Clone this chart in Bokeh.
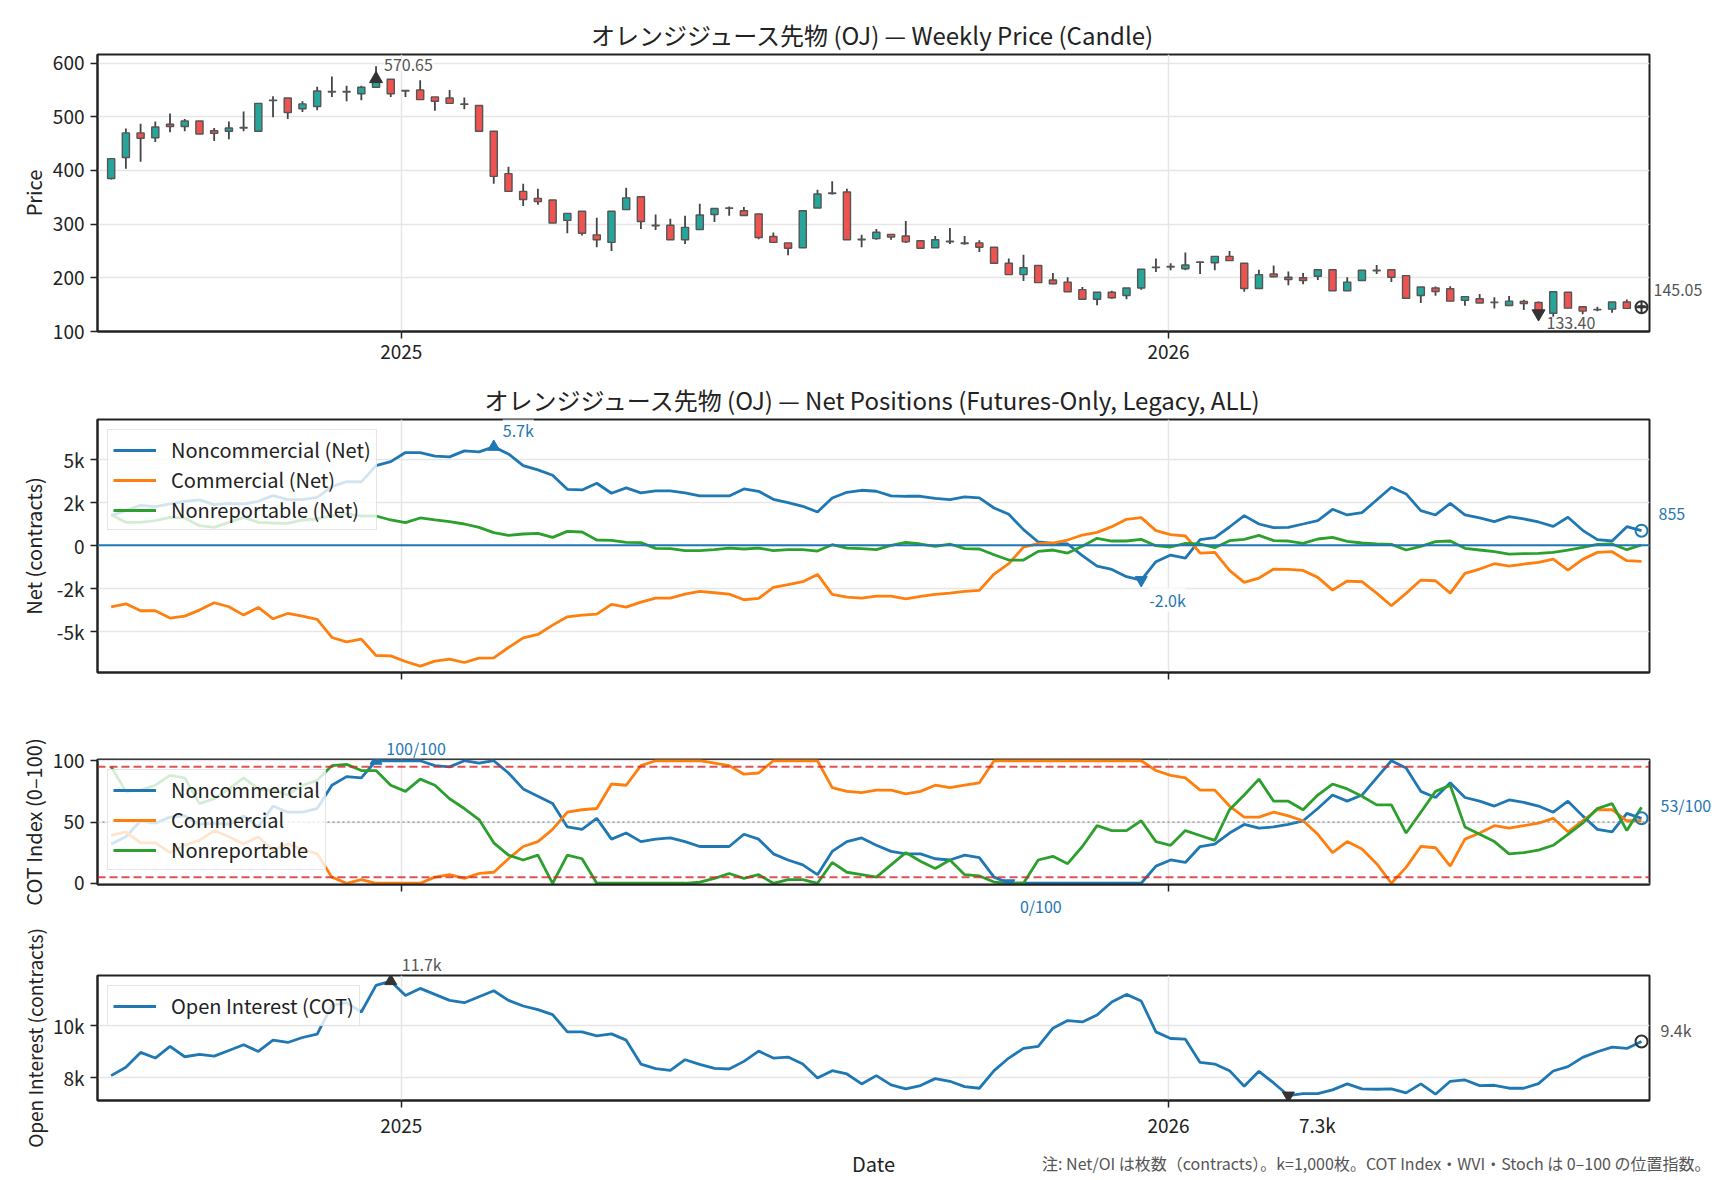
import numpy as np
import pandas as pd
from bokeh.plotting import figure
from bokeh.models import (ColumnDataSource, Range1d, FixedTicker, LinearAxis,
                          DatetimeTickFormatter, Label, Span)
from bokeh.layouts import column
from bokeh.embed import file_html
from bokeh.resources import INLINE

FONT = "Noto Sans CJK JP"
DAY = 86400000

# 週足 (105 本)
dates = pd.date_range("2024-08-16", periods=105, freq="7D")

price_open = [385, 424, 470, 461, 486, 482, 492, 474, 473, 479,
              473, 530, 535, 515, 519, 546, 546, 543, 555, 570,
              549, 550, 537, 535, 524, 521, 473, 394, 361, 348,
              345, 307, 324, 280, 266, 327, 351, 298, 298, 271,
              290, 318, 330, 325, 319, 277, 265, 256, 330, 358,
              360, 271, 273, 281, 278, 269, 256, 267, 265, 265,
              257, 227, 206, 223, 196, 192, 178, 160, 173, 167,
              181, 219, 220, 217, 229, 228, 240, 227, 180, 207,
              201, 200, 203, 215, 176, 195, 214, 215, 204, 167,
              181, 179.5, 158, 161, 154, 148.5, 156, 154, 134, 173,
              146, 140.5, 141.6, 155, 148]
price_high = [423, 478, 487, 491, 506, 496, 492, 479, 491, 510,
              525, 538, 535, 529, 556, 575, 558, 558, 594, 570,
              550, 568, 537, 550, 536, 521, 473, 407, 375, 366,
              345, 320, 324, 312, 324, 368, 351, 318, 310, 315.5,
              338, 329, 333, 332, 319, 284.5, 265, 325, 364, 380,
              366, 280, 291, 281, 306, 269, 278, 293, 278, 270,
              257, 236, 243, 223, 209, 201, 183, 173, 176, 181,
              216, 236, 227, 247, 230, 240, 250, 227, 215, 223,
              212, 209, 215, 216, 201, 214, 224, 215, 204, 183,
              184, 184.5, 165, 170, 164, 166, 159, 156, 175, 173,
              146, 146, 155, 159.7, 150]
price_low = [383, 403, 416, 453, 471, 473, 468, 455, 458, 473,
             473, 499, 496, 509, 512, 537, 529, 531, 554, 537,
             537, 532, 511, 525, 514, 473, 375, 361, 334, 336,
             302, 283, 279, 257, 250, 327, 291, 289, 271, 263,
             290, 304, 315.5, 316, 272, 266, 242, 256, 330, 355,
             271, 257, 271, 271, 265, 255, 256, 263, 261.5, 248,
             226, 206, 194, 191, 188, 174, 160, 149, 161, 160,
             178, 211, 214, 214, 207, 214, 232, 174, 180, 201,
             186, 188, 196, 176, 176, 195, 207, 192, 162, 153,
             166.5, 156.5, 148, 153, 143, 148.5, 140, 131, 126, 143,
             132, 137.5, 134.7, 143, 142]
price_close = [422, 470, 460, 481, 482, 492, 468, 469, 479, 480,
               525, 531, 508, 524, 548, 547, 547, 555, 570.65, 543,
               548, 532, 529, 525, 523, 473, 389, 361, 346, 342,
               302, 320, 283, 271, 324, 349, 305, 297, 271, 294,
               317, 329, 329.5, 316, 275, 266, 255, 325, 356, 357,
               271, 272, 285, 276, 267, 255, 271, 268, 264, 257,
               227, 206, 219, 191, 189, 174, 160, 173, 163, 181,
               216, 220, 221, 224, 229.5, 240, 232, 180, 206, 202,
               197, 195, 215, 176, 192, 214, 213, 201, 162, 183,
               174.5, 156.5, 165, 153, 154.5, 156.5, 152, 133.40, 174, 143.5,
               138, 141, 155, 143, 145.05]

# ネット建玉 (枚)
net_noncomm = [1732, 2024, 2335, 2257, 2413, 2569, 2647, 2374, 2452, 2413,
               2569, 2900, 2666, 2666, 2802, 3425, 3717, 3697, 4651, 4884,
               5410, 5410, 5196, 5157, 5507, 5449, 5741, 5332, 4651, 4398,
               4087, 3269, 3230, 3620, 3036, 3347, 3055, 3172, 3172, 3055,
               2880, 2880, 2880, 3289, 3153, 2686, 2491, 2277, 1946, 2763,
               3094, 3211, 3153, 2880, 2861, 2861, 2744, 2666, 2822, 2763,
               2179, 1810, 915, 195, 117, 78, -603, -1207, -1401, -1829,
               -2024, -953, -564, -739, 331, 448, 1070, 1732, 1245, 1031,
               1051, 1245, 1440, 2102, 1771, 1907, 2647, 3386, 2997, 2024,
               1771, 2452, 1771, 1596, 1382, 1674, 1537, 1362, 1109, 1635,
               876, 331, 253, 1090, 855]
net_comm = [-3581, -3406, -3814, -3814, -4242, -4126, -3775, -3347, -3581, -4067,
            -3620, -4281, -3970, -4126, -4320, -5371, -5624, -5468, -6422, -6441,
            -6772, -7045, -6753, -6636, -6830, -6577, -6558, -5955, -5390, -5196,
            -4651, -4164, -4067, -4009, -3444, -3600, -3308, -3075, -3075, -2841,
            -2685, -2763, -2841, -3172, -3094, -2452, -2296, -2121, -1693, -2861,
            -3016, -3075, -2958, -2958, -3120, -2977, -2861, -2783, -2685, -2627,
            -1674, -1070, -97, 97, 136, 311, 603, 759, 1090, 1518,
            1615, 856, 623, 545, -448, -409, -1460, -2160, -1907, -1382,
            -1401, -1460, -1868, -2608, -2082, -2121, -2783, -3522, -2802, -2024,
            -2063, -2783, -1635, -1382, -1070, -1207, -1090, -992, -798, -1440,
            -817, -409, -370, -895, -934]
net_nonrep = [1790, 1343, 1343, 1440, 1635, 1596, 1148, 1051, 1343, 1635,
              1343, 1304, 1284, 1479, 1537, 1712, 1829, 1712, 1712, 1479,
              1323, 1596, 1479, 1382, 1245, 1051, 739, 584, 662, 700,
              467, 817, 778, 311, 292, 175, 156, -175, -195, -311,
              -311, -253, -156, -214, -156, -311, -253, -253, -331, 39,
              -156, -195, -253, 0, 175, 78, -58, 78, -195, -214,
              -545, -856, -856, -350, -272, -448, -58, 409, 253, 253,
              350, -19, -97, 117, 78, -136, 272, 350, 584, 272,
              253, 117, 370, 467, 234, 136, 78, 58, -272, -58,
              214, 253, -175, -272, -370, -506, -486, -467, -409, -272,
              -117, 58, 78, -253, 19]

# COT Index (0-100)
idx_noncomm = [32, 38, 51, 49, 54, 55, 48, 49, 48, 55,
               46, 63, 58, 58, 61, 80, 87, 86, 100, 100,
               100, 100, 96, 95, 100, 98, 100, 90, 77, 71,
               65, 46, 44, 53, 36, 41, 34, 36, 37, 34,
               30, 30, 30, 40, 36, 24, 19, 15, 7, 26,
               34, 37, 31, 26, 24, 24, 20, 19, 23, 21,
               5, 0, 0, 0, 0, 0, 0, 0, 0, 0,
               0, 14, 19, 17, 30, 32, 41, 48, 45, 46,
               48, 51, 61, 72, 67, 72, 86, 100, 94, 75,
               70, 82, 70, 67, 63, 68, 66, 63, 58, 67,
               55, 44, 42, 57, 53]
idx_comm = [39, 42, 33, 33, 25, 31, 35, 43, 38, 32,
            38, 27, 32, 28, 24, 5, 0, 3, 0, 0,
            0, 0, 5, 7, 4, 8, 9, 20, 30, 34,
            44, 58, 60, 61, 81, 80, 96, 100, 100, 100,
            100, 98, 96, 89, 90, 100, 100, 100, 100, 78,
            75, 74, 76, 76, 73, 75, 80, 78, 80, 82,
            100, 100, 100, 100, 100, 100, 100, 100, 100, 100,
            100, 92, 88, 86, 76, 76, 63, 54, 54, 58,
            55, 51, 40, 25, 34, 28, 16, 0, 13, 30,
            29, 14, 36, 41, 47, 45, 47, 49, 53, 42,
            51, 60, 60, 51, 51]
idx_nonrep = [95, 75, 76, 80, 88, 86, 65, 69, 77, 86,
              77, 76, 72, 80, 84, 96, 97, 92, 92, 80,
              75, 85, 80, 69, 61, 52, 33, 23, 19, 23,
              0, 23, 20, 0, 0, 0, 0, 0, 0, 0,
              1, 4, 8, 4, 7, 0, 3, 3, 0, 17,
              9, 7, 5, 15, 25, 18, 12, 19, 7, 6,
              1, 0, 0, 19, 22, 16, 30, 47, 43, 43,
              51, 34, 31, 43, 39, 35, 60, 72, 85, 67,
              67, 60, 72, 81, 77, 71, 64, 64, 41, 58,
              75, 80, 46, 40, 34, 24, 25, 27, 31, 40,
              49, 61, 65, 43, 62]

# 建玉 (Open Interest)
open_interest = [8088, 8403, 8969, 8755, 9195, 8805, 8893, 8830, 9044, 9258,
                 9006, 9434, 9346, 9535, 9661, 10755, 10856, 10503, 11510, 11673,
                 11132, 11397, 11170, 10944, 10856, 11082, 11309, 10944, 10730, 10591,
                 10403, 9749, 9749, 9598, 9673, 9434, 8528, 8352, 8289, 8692,
                 8516, 8365, 8340, 8629, 9019, 8755, 8793, 8528, 8000, 8277,
                 8151, 7774, 8088, 7736, 7585, 7711, 7975, 7874, 7673, 7610,
                 8277, 8755, 9120, 9195, 9887, 10176, 10126, 10390, 10881, 11170,
                 10919, 9749, 9497, 9472, 8591, 8528, 8277, 7686, 8252, 7811,
                 7333, 7409, 7409, 7547, 7774, 7585, 7572, 7585, 7434, 7774,
                 7384, 7874, 7925, 7711, 7723, 7610, 7610, 7786, 8264, 8428,
                 8780, 8994, 9170, 9120, 9384]

year_ticks = ["2025-01-01", "2026-01-01"]
year_labels = ["2025", "2026"]
price_ticks = [100, 200, 300, 400, 500, 600]
net_ticks = [-5000, -2500, 0, 2500, 5000]
net_tick_labels = ["-5k", "-2k", "0", "2k", "5k"]
idx_ticks = [0, 50, 100]
oi_ticks = [8000, 10000]
oi_tick_labels = ["8k", "10k"]

title_price = "オレンジジュース先物 (OJ) — Weekly Price (Candle)"
title_net = "オレンジジュース先物 (OJ) — Net Positions (Futures-Only, Legacy, ALL)"
footnote = "注: Net/OI は枚数（contracts）。k=1,000枚。COT Index・WVI・Stoch は 0–100 の位置指数。"

C_UP, C_DN = "#26a69a", "#ef5350"
C_BLUE, C_ORANGE, C_GREEN = "#1f77b4", "#ff7f0e", "#2ca02c"
INK = "#222222"
GREY_TXT = "#555555"

FRAME_W, LEFT, RIGHT = 1552, 97, 79


def ms(t):
    return pd.Timestamp(t).value / 1e6


x_start = pd.Timestamp("2024-08-09 12:00")
x_end = pd.Timestamp("2026-08-17 19:00")
x_range = Range1d(x_start, x_end)
x_mid = (ms(x_start) + ms(x_end)) / 2
mpp = (ms(x_end) - ms(x_start)) / FRAME_W   # ms per pixel
xs = [ms(d) for d in dates]
year_ms = [ms(t) for t in year_ticks]


def make_fig(frame_h, top, bottom, y0, y1, yticks, ylabels=None, title=None):
    p = figure(x_axis_type="datetime", x_range=x_range, y_range=Range1d(y0, y1),
               frame_width=FRAME_W, frame_height=frame_h,
               min_border_left=LEFT, min_border_right=RIGHT,
               min_border_top=top, min_border_bottom=bottom,
               toolbar_location=None, tools="", output_backend="svg",
               background_fill_color="white", border_fill_color="white")
    if title:
        p.title.text = title
        p.title.text_font = FONT
        p.title.text_font_size = "24px"
        p.title.text_font_style = "normal"
        p.title.text_color = INK
        p.title.align = "center"
        p.title.standoff = 5
    p.outline_line_color = INK
    p.outline_line_width = 2
    p.outline_line_alpha = 1
    for ax in p.axis:
        ax.axis_line_color = INK
        ax.axis_line_width = 2
        ax.major_tick_line_color = INK
        ax.major_tick_line_width = 1.5
        ax.major_tick_out = 7
        ax.major_tick_in = 0
        ax.minor_tick_line_color = None
        ax.major_label_text_font = FONT
        ax.major_label_text_font_size = "19px"
        ax.major_label_text_color = INK
        ax.major_label_standoff = 6
        ax.axis_label_text_font = FONT
        ax.axis_label_text_font_size = "20px"
        ax.axis_label_text_font_style = "normal"
        ax.axis_label_text_color = INK
    p.xaxis.ticker = FixedTicker(ticks=year_ms)
    p.xaxis.formatter = DatetimeTickFormatter(days="%Y", months="%Y", years="%Y")
    p.yaxis.ticker = FixedTicker(ticks=yticks)
    if ylabels:
        p.yaxis.major_label_overrides = {t: s for t, s in zip(yticks, ylabels)}
    p.xgrid.grid_line_color = "#e6e6e6"
    p.ygrid.grid_line_color = "#e6e6e6"
    p.xgrid.grid_line_width = 1.5
    p.ygrid.grid_line_width = 1.5
    return p


def hide_x_labels(p):
    # 目盛り線だけ残す
    p.xaxis.major_label_overrides = {t: "" for t in year_ms}
    p.xaxis.major_label_text_font_size = "1px"
    p.xaxis.major_label_standoff = 0


def side_axis(p, where, ticks, labels, color, size="16px", standoff=4):
    ax = LinearAxis(ticker=FixedTicker(ticks=ticks),
                    major_label_overrides=dict(zip(ticks, labels)),
                    axis_line_color=None, major_tick_line_color=None,
                    minor_tick_line_color=None, major_tick_out=0, major_tick_in=0,
                    major_label_standoff=standoff, major_label_text_font=FONT,
                    major_label_text_font_size=size, major_label_text_color=color)
    p.add_layout(ax, where)
    return ax


def note(p, x, y, s, dx, dy, color, bg=True):
    lab = Label(x=x, y=y, text=s, x_offset=dx, y_offset=dy, text_align="left",
                text_baseline="middle", text_font=FONT, text_font_size="16px",
                text_color=color)
    if bg:
        lab.background_fill_color = "white"
        lab.background_fill_alpha = 0.75
    p.add_layout(lab)


def px_y(p, n):
    # n ピクセル分の y データ量
    return n * (p.y_range.end - p.y_range.start) / p.frame_height


def style_legend(p):
    lg = p.legend[0]
    lg.location = "top_left"
    lg.margin = 10
    lg.padding = 5
    lg.spacing = 1
    lg.label_height = 20
    lg.glyph_height = 20
    lg.glyph_width = 43
    lg.label_standoff = 15
    lg.label_text_font = FONT
    lg.label_text_font_size = "20px"
    lg.label_text_color = INK
    lg.border_line_color = "#cccccc"
    lg.border_line_width = 1.5
    lg.background_fill_alpha = 0.8


def kfmt(v):
    return f"{v / 1000:.1f}k" if abs(v) >= 1000 else f"{v:.0f}"


# ---- 価格 (ローソク足)
p1 = make_fig(277, 54, 46, 100, 616, price_ticks, title=title_price)
p1.yaxis.axis_label = "Price"
p1.yaxis.axis_label_standoff = 2
up = [c >= o for o, c in zip(price_open, price_close)]
src = ColumnDataSource(data=dict(
    x=dates, high=price_high, low=price_low,
    top=[max(o, c) for o, c in zip(price_open, price_close)],
    bottom=[min(o, c) for o, c in zip(price_open, price_close)],
    color=[C_UP if u else C_DN for u in up]))
p1.segment(x0="x", y0="low", x1="x", y1="high", source=src,
           line_color="#444444", line_width=1.8)
p1.vbar(x="x", width=3.4 * DAY, top="top", bottom="bottom", source=src,
        fill_color="color", line_color="#555555", line_width=1.4)

hi = int(np.argmax(price_close))
lo = int(np.argmin(price_close))
p1.scatter([xs[hi]], [price_close[hi]], marker="triangle", size=13, color="#333333")
p1.scatter([xs[lo]], [price_close[lo]], marker="inverted_triangle", size=13, color="#333333")
p1.scatter([xs[-1]], [price_close[-1]], marker="circle_cross", size=12,
           fill_color=None, line_color="#333333", line_width=2)
note(p1, xs[hi], price_close[hi], f"{price_close[hi]:.2f}", 8, 14, GREY_TXT)
note(p1, xs[lo], price_close[lo], f"{price_close[lo]:.2f}", 8, -9, GREY_TXT)
side_axis(p1, "right", [price_close[-1] + px_y(p1, 17)], [f"{price_close[-1]:.2f}"],
          GREY_TXT, standoff=4)

# ---- ネット建玉
p2 = make_fig(253, 42, 56, -7413, 7337, net_ticks, net_tick_labels, title=title_net)
hide_x_labels(p2)
p2.yaxis.axis_label = "Net (contracts)"
p2.yaxis.axis_label_standoff = 6
p2.add_layout(Span(location=0, dimension="width", line_color=C_BLUE, line_width=2))
p2.line(dates, net_noncomm, color=C_BLUE, line_width=2.8, legend_label="Noncommercial (Net)")
p2.line(dates, net_comm, color=C_ORANGE, line_width=2.8, legend_label="Commercial (Net)")
p2.line(dates, net_nonrep, color=C_GREEN, line_width=2.8, legend_label="Nonreportable (Net)")
style_legend(p2)
hi = int(np.argmax(net_noncomm))
lo = int(np.argmin(net_noncomm))
p2.scatter([xs[hi]], [net_noncomm[hi]], marker="triangle", size=12, color=C_BLUE)
p2.scatter([xs[lo]], [net_noncomm[lo]], marker="inverted_triangle", size=12, color=C_BLUE)
p2.scatter([xs[-1]], [net_noncomm[-1]], marker="circle", size=12,
           fill_color=None, line_color=C_BLUE, line_width=2)
note(p2, xs[hi], net_noncomm[hi], kfmt(net_noncomm[hi]), 9, 17, C_BLUE)
note(p2, xs[lo], net_noncomm[lo], kfmt(net_noncomm[lo]), 8, -20, C_BLUE)
side_axis(p2, "right", [net_noncomm[-1] + px_y(p2, 17)], [kfmt(net_noncomm[-1])],
          C_BLUE, standoff=9)

# ---- COT Index
p3 = make_fig(125, 31, 34, -1, 101, idx_ticks)
hide_x_labels(p3)
p3.yaxis.axis_label = "COT Index (0–100)"
p3.yaxis.axis_label_standoff = 2
for lvl, col, dash, w in [(95, "#d62728", "8 4", 2), (5, "#d62728", "8 4", 2),
                          (50, "#888888", "2 3", 1.5)]:
    p3.add_layout(Span(location=lvl, dimension="width", line_color=col,
                       line_alpha=0.8, line_dash=dash, line_width=w))
p3.line(dates, idx_noncomm, color=C_BLUE, line_width=2.8, legend_label="Noncommercial")
p3.line(dates, idx_comm, color=C_ORANGE, line_width=2.8, legend_label="Commercial")
p3.line(dates, idx_nonrep, color=C_GREEN, line_width=2.8, legend_label="Nonreportable")
style_legend(p3)
hi = int(np.argmax(idx_noncomm))
lo = int(np.argmin(idx_noncomm))
p3.scatter([xs[hi]], [idx_noncomm[hi]], marker="triangle", size=12, color=C_BLUE)
p3.scatter([xs[lo]], [idx_noncomm[lo]], marker="inverted_triangle", size=12, color=C_BLUE)
p3.scatter([xs[-1]], [idx_noncomm[-1]], marker="circle", size=12,
           fill_color=None, line_color=C_BLUE, line_width=2)
side_axis(p3, "above", [xs[hi] + 40 * mpp], [f"{idx_noncomm[hi]:.0f}/100"], C_BLUE, standoff=0)
side_axis(p3, "below", [xs[lo] + 32 * mpp], [f"{idx_noncomm[lo]:.0f}/100"], C_BLUE, standoff=2)
side_axis(p3, "right", [idx_noncomm[-1] + px_y(p3, 13)], [f"{idx_noncomm[-1]:.0f}/100"],
          C_BLUE, standoff=11)

# ---- 建玉
p4 = make_fig(125, 55, 48, 7145, 11887, oi_ticks, oi_tick_labels)
hide_x_labels(p4)
p4.yaxis.axis_label = "Open Interest (contracts)"
p4.yaxis.axis_label_text_font_size = "19px"
p4.yaxis.axis_label_standoff = 2
p4.line(dates, open_interest, color=C_BLUE, line_width=2.8, legend_label="Open Interest (COT)")
style_legend(p4)
hi = int(np.argmax(open_interest))
lo = int(np.argmin(open_interest))
p4.scatter([xs[hi]], [open_interest[hi]], marker="triangle", size=12, color="#333333")
p4.scatter([xs[lo]], [open_interest[lo]], marker="inverted_triangle", size=12, color="#333333")
p4.scatter([xs[-1]], [open_interest[-1]], marker="circle", size=12,
           fill_color=None, line_color="#333333", line_width=2)
side_axis(p4, "above", [xs[hi] + 31 * mpp], [kfmt(open_interest[hi])], GREY_TXT, standoff=0)
# 年ラベルと最小値ラベルは同じ行
side_axis(p4, "below", year_ms + [xs[lo] + 29 * mpp],
          year_labels + [kfmt(open_interest[lo])], INK, size="19px", standoff=3)
side_axis(p4, "right", [open_interest[-1] + px_y(p4, 11)], [kfmt(open_interest[-1])],
          GREY_TXT, standoff=11)

# ---- 下端: 軸名と注記 (枠は左端を揃え、右端はページ端まで)
P5_W = 1728 - LEFT
p5 = figure(x_range=Range1d(ms(x_start), ms(x_start) + P5_W * mpp),
            y_range=Range1d(0, 34), frame_width=P5_W, frame_height=34,
            min_border_left=LEFT, min_border_right=0,
            min_border_top=0, min_border_bottom=0,
            x_axis_location=None, y_axis_location=None,
            toolbar_location=None, tools="", output_backend="svg")
p5.outline_line_color = None
p5.grid.visible = False
p5.add_layout(Label(x=x_mid, y=19, text="Date", text_align="center",
                    text_baseline="middle", text_font=FONT, text_font_size="20px",
                    text_color=INK))
p5.add_layout(Label(x=ms(x_end), y=20, x_offset=61, text=footnote, text_align="right",
                    text_baseline="middle", text_font=FONT, text_font_size="16px",
                    text_color=GREY_TXT))

layout = column(p1, p2, p3, p4, p5)
open("out.html", "w").write(file_html(layout, INLINE))
